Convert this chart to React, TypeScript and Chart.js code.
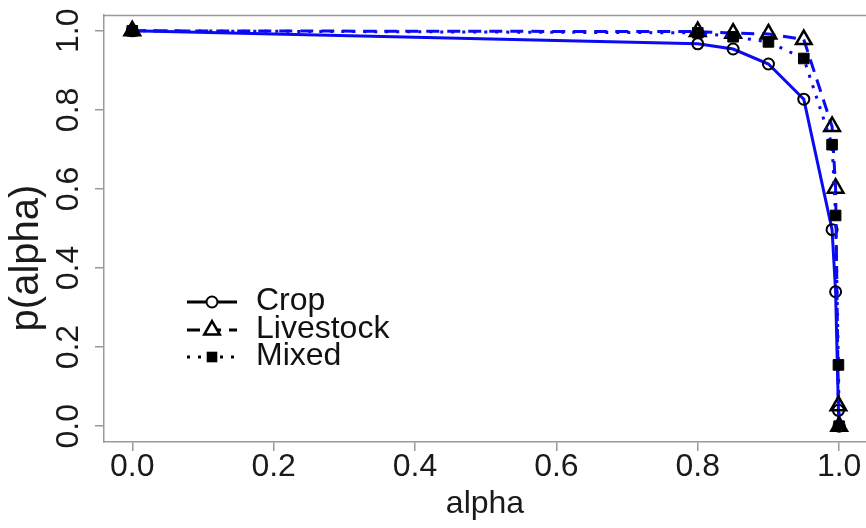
import React, { useEffect, useRef } from 'react';
import { Chart, registerables } from 'chart.js';
Chart.register(...registerables);

const alphaValues = [0, 0.8, 0.85, 0.9, 0.95, 0.99, 0.995, 0.999, 1.0];
const cropValues = [1.0, 0.967, 0.954, 0.916, 0.827, 0.497, 0.34, 0.04, 0.0];
const livestockValues = [1.0, 0.998, 0.994, 0.992, 0.978, 0.758, 0.602, 0.052, 0.0];
const mixedValues = [1.0, 0.995, 0.985, 0.972, 0.93, 0.712, 0.533, 0.155, 0.0];
const seriesNames = ['Crop', 'Livestock', 'Mixed'];
const xTicks = [0, 0.2, 0.4, 0.6, 0.8, 1.0];
const yTicks = [0, 0.2, 0.4, 0.6, 0.8, 1.0];
const xTitle = 'alpha';
const yTitle = 'p(alpha)';

const FONT = "'Liberation Sans', Arial, Helvetica, sans-serif";
const LINE_BLUE = '#0a0af5';
const AXIS_GREY = '#999999';

const toPoints = (ys: number[]) => alphaValues.map((x, i) => ({ x, y: ys[i] }));

const frameAndLegend = {
  id: 'frameAndLegend',
  afterDraw(chart: any) {
    const { ctx, chartArea } = chart;
    ctx.save();
    // top frame line
    ctx.strokeStyle = AXIS_GREY;
    ctx.lineWidth = 1.5;
    ctx.beginPath();
    ctx.moveTo(chartArea.left, chartArea.top + 0.5);
    ctx.lineTo(chartArea.right, chartArea.top + 0.5);
    ctx.stroke();

    // y axis title (R style, larger and centred lower)
    ctx.save();
    ctx.translate(27, 258);
    ctx.rotate(-Math.PI / 2);
    ctx.fillStyle = '#1a1a1a';
    ctx.font = `40px ${FONT}`;
    ctx.textAlign = 'center';
    ctx.textBaseline = 'middle';
    ctx.fillText(yTitle, 0, 0);
    ctx.restore();

    // legend (R style: line segment with marker in middle)
    const x0 = 187, x1 = 237, xm = 212, xt = 256;
    const rowY = [302, 330, 357];
    chart.data.datasets.forEach((ds: any, i: number) => {
      const y = rowY[i];
      ctx.strokeStyle = '#000';
      ctx.lineWidth = 3;
      ctx.setLineDash(ds.borderDash || []);
      ctx.beginPath();
      ctx.moveTo(x0, y);
      ctx.lineTo(x1, y);
      ctx.stroke();
      ctx.setLineDash([]);
      ctx.lineWidth = ds.pointBorderWidth;
      ctx.strokeStyle = '#000';
      ctx.fillStyle = '#fff';
      const r = ds.pointRadius;
      ctx.beginPath();
      if (ds.pointStyle === 'circle') {
        ctx.arc(xm, y, r, 0, Math.PI * 2);
        ctx.fill();
        ctx.stroke();
      } else if (ds.pointStyle === 'triangle') {
        ctx.moveTo(xm, y - r);
        ctx.lineTo(xm + r * Math.sin((2 * Math.PI) / 3), y - r * Math.cos((2 * Math.PI) / 3));
        ctx.lineTo(xm + r * Math.sin((4 * Math.PI) / 3), y - r * Math.cos((4 * Math.PI) / 3));
        ctx.closePath();
        ctx.fill();
        ctx.stroke();
      } else {
        const s = r * Math.SQRT1_2;
        ctx.fillStyle = '#000';
        ctx.fillRect(xm - s, y - s, 2 * s, 2 * s);
      }
      ctx.fillStyle = '#111';
      ctx.font = `32px ${FONT}`;
      ctx.textAlign = 'left';
      ctx.textBaseline = 'middle';
      ctx.fillText(ds.label, xt, y - 1);
    });
    ctx.restore();
  },
};

export default function App() {
  const canvasRef = useRef<HTMLCanvasElement | null>(null);

  useEffect(() => {
    document.body.style.margin = '0';
    const canvas = canvasRef.current;
    if (!canvas) return;
    const chart = new Chart(canvas, {
      type: 'line',
      data: {
        datasets: [
          {
            label: seriesNames[0],
            data: toPoints(cropValues),
            borderColor: LINE_BLUE,
            borderWidth: 3,
            borderDash: [],
            pointStyle: 'circle',
            pointRadius: 5.5,
            pointBorderWidth: 2,
            pointBorderColor: '#000',
            pointBackgroundColor: 'transparent',
            tension: 0,
            order: 3,
          },
          {
            label: seriesNames[1],
            data: toPoints(livestockValues),
            borderColor: LINE_BLUE,
            borderWidth: 3,
            borderDash: [13, 8],
            pointStyle: 'triangle',
            pointRadius: 9,
            pointBorderWidth: 2.5,
            pointBorderColor: '#000',
            pointBackgroundColor: 'transparent',
            tension: 0,
            order: 2,
          },
          {
            label: seriesNames[2],
            data: toPoints(mixedValues),
            borderColor: LINE_BLUE,
            borderWidth: 3,
            borderDash: [3, 8],
            pointStyle: 'rect',
            pointRadius: 7.5,
            pointBorderWidth: 1,
            pointBorderColor: '#000',
            pointBackgroundColor: '#000',
            tension: 0,
            order: 1,
          },
        ] as any,
      },
      options: {
        animation: false,
        responsive: false,
        layout: { autoPadding: false, padding: { top: 15, right: 0, left: 0, bottom: 0 } },
        plugins: {
          legend: { display: false },
          tooltip: { enabled: false },
        },
        scales: {
          x: {
            type: 'linear',
            min: -0.04,
            max: 1.038,
            afterBuildTicks: (scale: any) => {
              scale.ticks = xTicks.map((v) => ({ value: v }));
            },
            afterFit: (scale: any) => {
              scale.height = 86;
              scale.paddingLeft = 0;
              scale.paddingRight = 0;
            },
            grid: { drawOnChartArea: false, drawTicks: true, tickLength: 9, color: AXIS_GREY, lineWidth: 1.5 },
            border: { display: true, color: AXIS_GREY, width: 1.5 },
            ticks: {
              autoSkip: false,
              maxRotation: 0,
              minRotation: 0,
              padding: 0,
              color: '#1a1a1a',
              font: { family: FONT, size: 32, lineHeight: 1 },
              callback: (v: any) => Number(v).toFixed(1),
            },
            title: {
              display: true,
              text: xTitle,
              color: '#1a1a1a',
              font: { family: FONT, size: 32, lineHeight: 1 },
              padding: { top: 0, bottom: 8 },
            },
          },
          y: {
            type: 'linear',
            min: -0.04,
            max: 1.04,
            afterBuildTicks: (scale: any) => {
              scale.ticks = yTicks.map((v) => ({ value: v }));
            },
            afterFit: (scale: any) => {
              scale.width = 104;
              scale.paddingTop = 0;
              scale.paddingBottom = 0;
            },
            grid: { drawOnChartArea: false, drawTicks: true, tickLength: 9, color: AXIS_GREY, lineWidth: 1.5 },
            border: { display: true, color: AXIS_GREY, width: 1.5 },
            ticks: {
              autoSkip: false,
              minRotation: 90,
              maxRotation: 90,
              crossAlign: 'center',
              padding: 4,
              color: '#1a1a1a',
              font: { family: FONT, size: 32, lineHeight: 1 },
              callback: (v: any) => Number(v).toFixed(1),
            },
            title: { display: false },
          },
        },
      } as any,
      plugins: [frameAndLegend],
    });
    return () => chart.destroy();
  }, []);

  return (
    <div style={{ width: 866, height: 528, background: '#fff' }}>
      <canvas ref={canvasRef} width={866} height={528} style={{ display: 'block' }} />
    </div>
  );
}
